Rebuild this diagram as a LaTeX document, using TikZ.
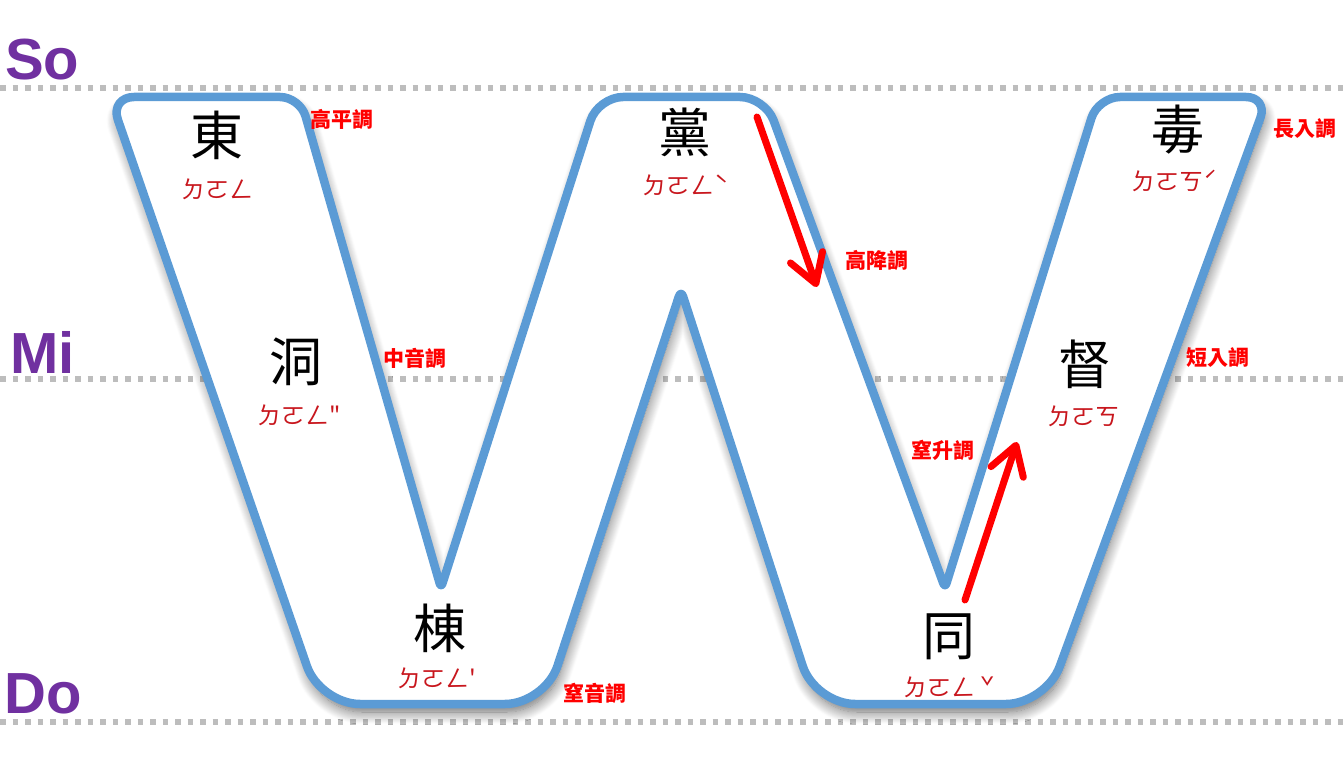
\documentclass[tikz,border=0pt]{standalone}
\usepackage{fontspec}
\setmainfont{Liberation Sans}
\newfontfamily\hanfont{Noto Sans CJK TC}
\usetikzlibrary{arrows.meta,calc,shadows.blur}
\definecolor{wblue}{HTML}{5B9BD5}
\definecolor{solpurple}{HTML}{7030A0}
\definecolor{dotgray}{HTML}{BDBDBD}
\definecolor{bopored}{HTML}{C8161D}
\definecolor{labred}{HTML}{FF0000}
\tikzset{
  staffline/.style={draw=dotgray, line width=5.5pt, dash pattern=on 5.5pt off 7pt},
  solfa/.style={font=\bfseries\fontsize{58}{58}\selectfont, text=solpurple, inner sep=0pt, anchor=base west},
  han/.style={font=\hanfont\fontsize{53}{53}\selectfont, inner sep=0pt, anchor=base},
  bopo/.style={font=\hanfont\fontsize{24}{24}\selectfont, text=bopored, inner sep=0pt, anchor=base},
  tonelab/.style={font=\hanfont\bfseries\fontsize{21}{21}\selectfont, text=labred, inner sep=0pt, anchor=base},
  wline/.style={draw=wblue, line width=8.5pt, line join=round, fill=white,
    blur shadow={shadow xshift=2pt, shadow yshift=-8pt, shadow blur radius=12pt, shadow blur steps=14, shadow opacity=60}},
  pitcharrow/.style={draw=labred, line width=7pt, line cap=round, -{Straight Barb[round,length=28pt,width=34pt]}}
}
\begin{document}
\begin{tikzpicture}[x=1pt,y=-1pt]
\useasboundingbox (0,0) rectangle (1344,759);
% staff lines
\coordinate (soL) at (0,88);   \coordinate (soR) at (1344,88);
\coordinate (miL) at (0,379);  \coordinate (miR) at (1344,379);
\coordinate (doL) at (0,722);  \coordinate (doR) at (1344,722);
\draw[staffline] (soL) -- (soR);
\draw[staffline] (miL) -- (miR);
\draw[staffline] (doL) -- (doR);
\node[solfa] (so) at (5,80) {So};
\node[solfa] (mi) at (10,373) {Mi};
\node[solfa] (do) at (4,713) {Do};
% W outline corners
\coordinate (w0) at (205,97);
\coordinate (w1) at (300,97);
\coordinate (w2) at (441,588);
\coordinate (w3) at (598,97);
\coordinate (w4) at (765,97);
\coordinate (w5) at (945,588);
\coordinate (w6) at (1098,97);
\coordinate (w7) at (1268,97);
\coordinate (w8) at (1046,704);
\coordinate (w9) at (815,704);
\coordinate (w10) at (681,290);
\coordinate (w11) at (545,704);
\coordinate (w12) at (320,704);
\coordinate (w13) at (110,97);
\draw[wline] (w0) [rounded corners=20pt] -- (w1) -- ($(w1)!.5!(w2)$)
  [rounded corners=5pt] -- (w2) -- ($(w2)!.5!(w3)$)
  [rounded corners=25pt] -- (w3) -- (w4) -- ($(w4)!.5!(w5)$)
  [rounded corners=5pt] -- (w5) -- ($(w5)!.5!(w6)$)
  [rounded corners=22pt] -- (w6) -- (w7) -- ($(w7)!.5!(w8)$)
  [rounded corners=40pt] -- (w8) -- (w9) -- ($(w9)!.5!(w10)$)
  [rounded corners=7pt] -- (w10) -- ($(w10)!.5!(w11)$)
  [rounded corners=40pt] -- (w11) -- (w12) -- ($(w12)!.5!(w13)$)
  [rounded corners=24pt] -- (w13) -- cycle;
% characters
\node[han] (dong1) at (217,156) {東};
\node[han] (dang) at (685,153) {黨};
\node[han] (du1) at (1178,150) {毒};
\node[han] (dong7) at (296,381) {洞};
\node[han] (du2) at (1085,384) {督};
\node[han] (dong3) at (440,648) {棟};
\node[han] (tong) at (949,655) {同};
% bopomofo
\node[bopo] (b1) at (217,199) {ㄉㄛㄥ};
\node[bopo] (b2) at (686,195) {ㄉㄛㄥˋ};
\node[bopo] (b3) at (1175,191) {ㄉㄛㄎˊ};
\node[bopo] (b4) at (299,424) {ㄉㄛㄥ\textquotedbl};
\node[bopo] (b5) at (1083,425) {ㄉㄛㄎ};
\node[bopo] (b6) at (437,687) {ㄉㄛㄥ\textquotesingle};
\node[bopo] (b7) at (949,696) {ㄉㄛㄥ ˇ};
% tone labels
\node[tonelab] (l1) at (342,128) {高平調};
\node[tonelab] (l2) at (877,269) {高降調};
\node[tonelab] (l3) at (1305,137) {長入調};
\node[tonelab] (l4) at (415,366) {中音調};
\node[tonelab] (l5) at (1218,365) {短入調};
\node[tonelab] (l6) at (943,458) {窒升調};
\node[tonelab] (l7) at (595,701) {窒音調};
% arrows
\coordinate (fallS) at (757,117);
\coordinate (fallE) at (817,287);
\coordinate (riseS) at (965,600);
\coordinate (riseE) at (1017,442);
\draw[pitcharrow] (fallS) -- (fallE);
\draw[pitcharrow] (riseS) -- (riseE);
\end{tikzpicture}
\end{document}
